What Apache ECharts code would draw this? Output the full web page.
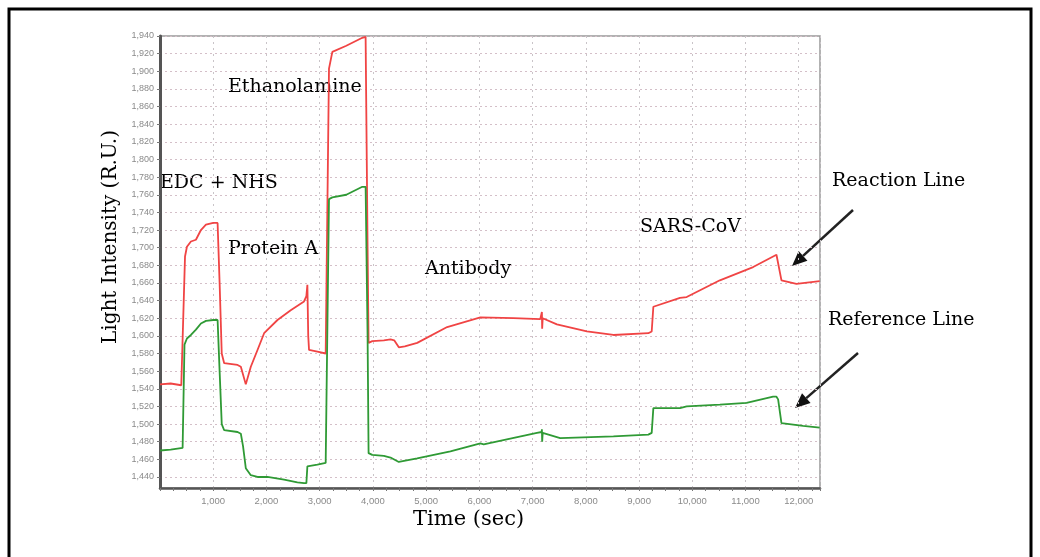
<!DOCTYPE html>
<html>
<head>
<meta charset="utf-8">
<script src="https://cdn.jsdelivr.net/npm/echarts@6/dist/echarts.min.js"></script>
<style>
  html, body { margin: 0; padding: 0; background: #fff; }
  #chart { width: 1040px; height: 557px; }
</style>
</head>
<body>
<div id="chart"></div>
<script>
// time (sec) and intensity (R.U.)
var reactionTime = [0, 200, 400, 425, 470, 506, 581, 675, 769, 863, 1000, 1082, 1120, 1160, 1206, 1457, 1519, 1612, 1706, 1832, 1956, 2207, 2456, 2706, 2750, 2769, 2785, 2800, 2957, 3113, 3150, 3175, 3238, 3500, 3801, 3863, 3900, 3919, 3988, 4206, 4331, 4400, 4487, 4600, 4832, 5395, 6019, 6643, 7144, 7170, 7175, 7180, 7190, 7457, 8020, 8519, 9175, 9238, 9269, 9769, 9895, 10519, 11144, 11582, 11613, 11676, 11707, 11957, 12394];
var reactionVal = [1545, 1546, 1544, 1545, 1690, 1701, 1707, 1709, 1720, 1726, 1728, 1728, 1660, 1580, 1569, 1567, 1565, 1545, 1565, 1584, 1603, 1618, 1629, 1639, 1645, 1658, 1600, 1584, 1582, 1580, 1580, 1903, 1922, 1929, 1938, 1939, 1700, 1592, 1594, 1595, 1596, 1595, 1587, 1588, 1592, 1610, 1621, 1620, 1619, 1619, 1627, 1608, 1620, 1613, 1605, 1601, 1603, 1605, 1633, 1643, 1644, 1663, 1678, 1692, 1690, 1663, 1661, 1659, 1662];

var referenceTime = [0, 200, 425, 460, 506, 581, 675, 769, 863, 1000, 1082, 1120, 1160, 1206, 1457, 1519, 1560, 1612, 1706, 1832, 2019, 2332, 2581, 2706, 2750, 2769, 2957, 3113, 3140, 3175, 3238, 3500, 3801, 3863, 3900, 3919, 3988, 4206, 4331, 4487, 4832, 5456, 6019, 6081, 7082, 7170, 7175, 7180, 7190, 7519, 8519, 9175, 9238, 9269, 9769, 9895, 10519, 11020, 11519, 11582, 11613, 11676, 12082, 12394];
var referenceVal = [1470, 1471, 1473, 1590, 1597, 1601, 1607, 1614, 1617, 1618, 1618, 1560, 1500, 1493, 1491, 1489, 1475, 1450, 1442, 1440, 1440, 1437, 1434, 1433, 1433, 1452, 1454, 1456, 1456, 1755, 1757, 1760, 1769, 1769, 1600, 1467, 1465, 1464, 1462, 1457, 1461, 1469, 1478, 1477, 1490, 1491, 1494, 1480, 1490, 1484, 1486, 1488, 1490, 1518, 1518, 1520, 1522, 1524, 1531, 1531, 1528, 1501, 1498, 1496];

var yTicks = [1440, 1460, 1480, 1500, 1520, 1540, 1560, 1580, 1600, 1620, 1640, 1660, 1680, 1700, 1720, 1740, 1760, 1780, 1800, 1820, 1840, 1860, 1880, 1900, 1920, 1940];

function pairs(xs, ys) {
    var out = [];
    for (var i = 0; i < xs.length; i++) out.push([xs[i], ys[i]]);
    return out;
}

var chart = echarts.init(document.getElementById('chart'));
var serif = 'DejaVu Serif';

function note(text, x, y, size) {
    return {
        type: 'text', left: x, top: y,
        style: { text: text, font: (size || 19) + 'px "' + serif + '"', fill: '#000' }
    };
}
function arrow(x1, y1, x2, y2) {
    var a = Math.atan2(y2 - y1, x2 - x1), L = 15, W = 6.5;
    var bx = x2 - L * Math.cos(a), by = y2 - L * Math.sin(a);
    var px = -Math.sin(a) * W, py = Math.cos(a) * W;
    return [
        { type: 'line', shape: { x1: x1, y1: y1, x2: bx, y2: by }, style: { stroke: '#222', lineWidth: 2.5 } },
        { type: 'polygon', shape: { points: [[x2, y2], [bx + px, by + py], [bx - px, by - py]] }, style: { fill: '#111' } }
    ];
}

option = {
    animation: false,
    backgroundColor: '#fff',
    grid: {
        left: 160, top: 36, right: 220, bottom: 69,
        show: true, borderColor: '#999', borderWidth: 1.5
    },
    xAxis: {
        type: 'value',
        min: 0, max: 12400, interval: 1000,
        axisLine: { show: true, lineStyle: { color: '#555', width: 2.5 } },
        axisTick: { show: true, length: 3, lineStyle: { color: '#777' } },
        minorTick: { show: true, splitNumber: 4, length: 3, lineStyle: { color: '#777' } },
        axisLabel: {
            showMinLabel: false, showMaxLabel: false,
            color: '#8a8a8a', fontSize: 9.5, fontFamily: 'Liberation Sans', margin: 8,
            formatter: function (v) { return v === 0 ? '' : v.toLocaleString('en-US'); }
        },
        splitLine: { show: true, lineStyle: { color: '#c9c4c8', type: [2, 4], width: 1 } }
    },
    yAxis: {
        type: 'value',
        min: 1427.5, max: 1940,
        axisLine: { show: true, lineStyle: { color: '#555', width: 3 } },
        axisTick: { show: true, length: 3, customValues: yTicks, lineStyle: { color: '#777' } },
        axisLabel: {
            customValues: yTicks,
            color: '#8a8a8a', fontSize: 9, fontFamily: 'Liberation Sans', margin: 6,
            formatter: function (v) { return v.toLocaleString('en-US'); }
        },
        splitLine: { show: true, lineStyle: { color: '#d4bfc8', type: [2, 3], width: 1 } }
    },
    series: [
        {
            name: 'Reaction Line', type: 'line', data: pairs(reactionTime, reactionVal),
            showSymbol: false, lineStyle: { color: '#f04444', width: 1.8 }, z: 3
        },
        {
            name: 'Reference Line', type: 'line', data: pairs(referenceTime, referenceVal),
            showSymbol: false, lineStyle: { color: '#2f9a35', width: 1.8 }, z: 4
        }
    ],
    graphic: [
        { type: 'rect', shape: { x: 9, y: 9, width: 1022, height: 560 }, style: { fill: 'none', stroke: '#000', lineWidth: 3 } },
        {
            type: 'text', x: 111, y: 237, rotation: Math.PI / 2,
            style: { text: 'Light Intensity (R.U.)', font: '20px "' + serif + '"', fill: '#000', align: 'center', verticalAlign: 'middle' }
        },
        {
            type: 'text', left: 413, top: 509,
            style: { text: 'Time (sec)', font: '21px "' + serif + '"', fill: '#000' }
        },
        note('EDC + NHS', 160, 174),
        note('Ethanolamine', 228, 78),
        note('Protein A', 228, 240),
        note('Antibody', 425, 260),
        note('SARS-CoV', 640, 218),
        note('Reaction Line', 832, 172),
        note('Reference Line', 828, 311)
    ].concat(arrow(853, 210, 792, 266), arrow(858, 353, 795, 408))
};

chart.setOption(option);
</script>
</body>
</html>
